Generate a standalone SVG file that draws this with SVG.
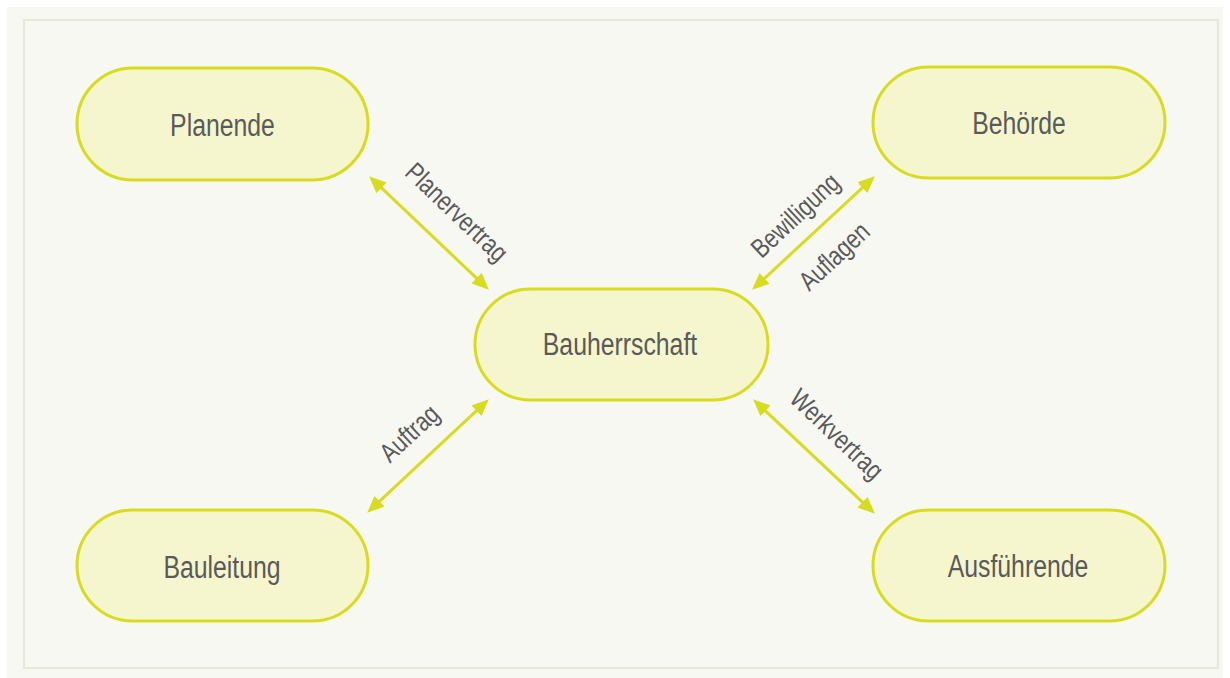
<svg xmlns="http://www.w3.org/2000/svg" width="1230" height="678" viewBox="0 0 1230 678">
<style>
.node rect{fill:#f5f6cd;stroke:#d7dc1e;stroke-width:3}
.node text{font-family:"Liberation Sans",Arial,sans-serif;font-size:31px;fill:#5a5a5a;text-anchor:middle}
.lbl{font-family:"Liberation Sans",Arial,sans-serif;font-size:27px;fill:#5a5a5a;text-anchor:middle}
.conn line{stroke:#d7dc1e;stroke-width:3;marker-start:url(#ah);marker-end:url(#ah)}
</style>
<defs>
<marker id="ah" markerUnits="userSpaceOnUse" markerWidth="17" markerHeight="15" viewBox="0 0 15 13" refX="6" refY="6.5" orient="auto-start-reverse">
<path d="M0,0 L15,6.5 L0,13 z" fill="#d7dc1e"/>
</marker>
</defs>
<rect x="0" y="0" width="1230" height="678" fill="#ffffff"/>
<rect x="7" y="7" width="1216" height="671" fill="#f8f8f3"/>
<rect x="24" y="20" width="1194" height="648" fill="none" stroke="#e6e8d9" stroke-width="2"/>
<g id="connectors" class="conn">
<line x1="376.5" y1="183.2" x2="481.5" y2="282.8"/>
<line x1="759.6" y1="282.9" x2="867.4" y2="183.1"/>
<line x1="374.6" y1="505.9" x2="481.4" y2="406.1"/>
<line x1="760.5" y1="406.2" x2="867.5" y2="506.8"/>
</g>
<g id="labels">
<text class="lbl" transform="translate(457,212) rotate(43.5) scale(0.8,1)" dy="9.5">Planervertrag</text>
<text class="lbl" transform="translate(795,215) rotate(-43) scale(0.8,1)" dy="9.5">Bewilligung</text>
<text class="lbl" transform="translate(834,256) rotate(-43) scale(0.8,1)" dy="9.5">Auflagen</text>
<text class="lbl" transform="translate(409,433) rotate(-43) scale(0.8,1)" dy="9.5">Auftrag</text>
<text class="lbl" transform="translate(837,434) rotate(43.5) scale(0.8,1)" dy="9.5">Werkvertrag</text>
</g>
<g id="planende" class="node"><rect x="77" y="68" width="291" height="112" rx="56"/><text transform="translate(222.5,135.5) scale(0.8,1)">Planende</text></g>
<g id="behoerde" class="node"><rect x="873" y="67" width="292" height="111" rx="55.5"/><text transform="translate(1019,133.5) scale(0.8,1)">Behörde</text></g>
<g id="bauherrschaft" class="node"><rect x="475" y="289" width="293" height="111" rx="55.5"/><text transform="translate(620,355) scale(0.8,1)">Bauherrschaft</text></g>
<g id="bauleitung" class="node"><rect x="77" y="510" width="291" height="111" rx="55.5"/><text transform="translate(222,577.5) scale(0.8,1)">Bauleitung</text></g>
<g id="ausfuehrende" class="node"><rect x="873" y="510" width="292" height="111" rx="55.5"/><text transform="translate(1018,577) scale(0.8,1)">Ausführende</text></g>
</svg>
